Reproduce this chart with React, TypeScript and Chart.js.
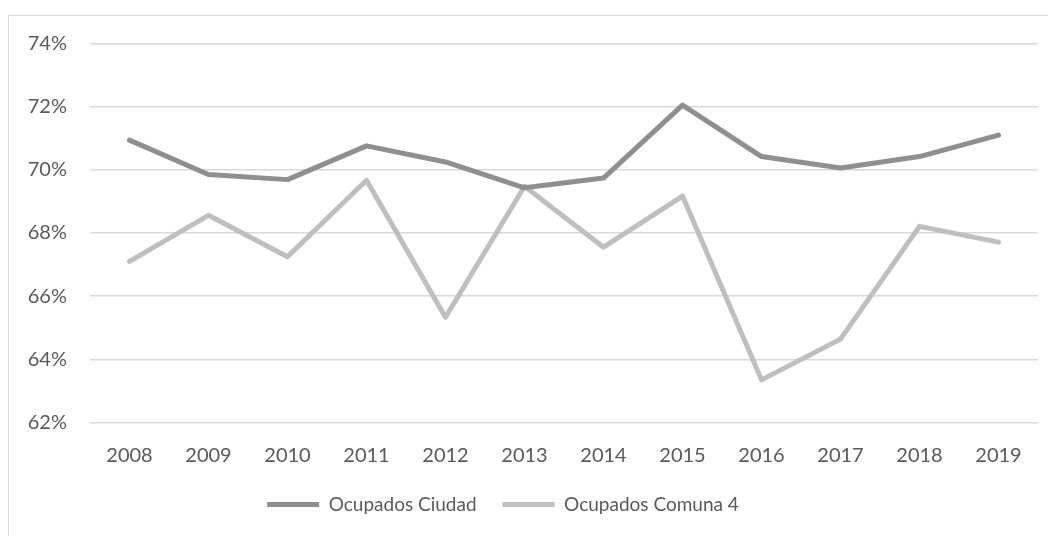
import React, { useEffect, useRef } from "react";
import { Chart, registerables } from "chart.js";

Chart.register(...registerables);

const years = ["2008", "2009", "2010", "2011", "2012", "2013", "2014", "2015", "2016", "2017", "2018", "2019"];
const ocupadosCiudad = [70.94, 69.85, 69.69, 70.76, 70.25, 69.43, 69.74, 72.05, 70.42, 70.06, 70.42, 71.1];
const ocupadosComuna4 = [67.1, 68.56, 67.25, 69.67, 65.33, 69.48, 67.55, 69.17, 63.35, 64.64, 68.21, 67.71];
const yMin = 62;
const yMax = 74;
const yStep = 2;

const FONT = "Lato, 'Open Sans', sans-serif";
const TEXT = "#595959";

const legendShift = {
  id: "legendShift",
  afterLayout(chart: any) {
    if (chart.legend) {
      chart.legend.right -= 41;
    }
  },
};

export default function App() {
  const ref = useRef<HTMLCanvasElement | null>(null);

  useEffect(() => {
    if (!ref.current) return;
    const chart = new Chart(ref.current, {
      type: "line",
      data: {
        labels: years,
        datasets: [
          {
            label: "Ocupados Ciudad",
            data: ocupadosCiudad,
            borderColor: "#8f8f8f",
            backgroundColor: "#8f8f8f",
            borderWidth: 5,
            borderCapStyle: "round",
            borderJoinStyle: "round",
            pointRadius: 0,
            tension: 0,
          },
          {
            label: "Ocupados Comuna 4",
            data: ocupadosComuna4,
            borderColor: "#bfbfbf",
            backgroundColor: "#bfbfbf",
            borderWidth: 5,
            borderCapStyle: "round",
            borderJoinStyle: "round",
            pointRadius: 0,
            tension: 0,
          },
        ],
      },
      plugins: [legendShift],
      options: {
        animation: false,
        responsive: false,
        maintainAspectRatio: false,
        layout: { padding: { top: 27.5, right: 18, bottom: 12, left: 0 } },
        plugins: {
          tooltip: { enabled: false },
          legend: {
            position: "bottom",
            labels: {
              boxWidth: 52,
              boxHeight: 5,
              padding: 26,
              color: TEXT,
              font: { family: FONT, size: 19 },
              generateLabels: (c: any) =>
                c.data.datasets.map((ds: any, i: number) => ({
                  text: ds.label,
                  fillStyle: ds.borderColor,
                  strokeStyle: ds.borderColor,
                  lineWidth: 0,
                  fontColor: TEXT,
                  datasetIndex: i,
                  hidden: false,
                })),
            },
          },
        },
        scales: {
          x: {
            offset: true,
            afterFit: (s: any) => {
              s.height = s.height - 20.5;
            },
            grid: { display: false, drawTicks: false },
            border: { display: false },
            ticks: { color: TEXT, font: { family: FONT, size: 20 }, padding: 21.5, maxRotation: 0 },
          },
          y: {
            min: yMin,
            max: yMax,
            afterFit: (s: any) => {
              s.width = 81;
              s.paddingTop = 0;
              s.paddingBottom = 0;
            },
            grid: { color: "#d9d9d9", lineWidth: 1.5, drawTicks: false },
            border: { display: false },
            ticks: {
              stepSize: yStep,
              padding: 23,
              color: TEXT,
              font: { family: FONT, size: 20 },
              callback: (v: any) => `${v}%`,
            },
          },
        },
      },
    });
    return () => chart.destroy();
  }, []);

  return (
    <div
      style={{
        marginTop: 7,
        width: 1047,
        height: 520,
        borderLeft: "1px solid #d9d9d9",
        borderTop: "1px solid #d9d9d9",
        background: "#fff",
      }}
    >
      <canvas ref={ref} width={1047} height={520} style={{ display: "block" }} />
    </div>
  );
}
